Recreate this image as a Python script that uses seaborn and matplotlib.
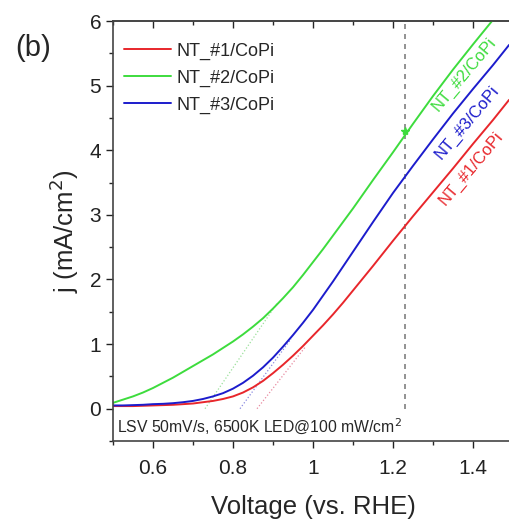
import pandas as pd
import matplotlib
matplotlib.use('Agg')
import matplotlib.pyplot as plt
from matplotlib.ticker import MultipleLocator
import seaborn as sns

# datos
voltage = [0.500, 0.525, 0.550, 0.575, 0.600, 0.625, 0.650, 0.675, 0.700, 0.725,
           0.750, 0.775, 0.800, 0.825, 0.850, 0.875, 0.900, 0.925, 0.950, 0.975,
           1.000, 1.025, 1.050, 1.075, 1.100, 1.150, 1.200, 1.250, 1.300, 1.350,
           1.400, 1.450, 1.490]
j_nt1 = [0.04, 0.04, 0.04, 0.045, 0.05, 0.055, 0.06, 0.07, 0.08, 0.10,
         0.12, 0.15, 0.19, 0.25, 0.33, 0.43, 0.55, 0.68, 0.82, 0.97,
         1.13, 1.29, 1.46, 1.64, 1.83, 2.21, 2.60, 2.98, 3.35, 3.72,
         4.10, 4.47, 4.78]
j_nt2 = [0.09, 0.14, 0.19, 0.25, 0.32, 0.40, 0.48, 0.57, 0.66, 0.75,
         0.84, 0.94, 1.04, 1.15, 1.27, 1.40, 1.55, 1.71, 1.88, 2.07,
         2.27, 2.47, 2.68, 2.89, 3.10, 3.54, 3.97, 4.41, 4.84, 5.25,
         5.64, 6.02, 6.30]
j_nt3 = [0.05, 0.05, 0.055, 0.06, 0.07, 0.075, 0.085, 0.10, 0.12, 0.15,
         0.19, 0.24, 0.31, 0.40, 0.51, 0.64, 0.79, 0.96, 1.14, 1.33,
         1.53, 1.75, 1.97, 2.20, 2.43, 2.89, 3.34, 3.76, 4.17, 4.57,
         4.95, 5.32, 5.63]
samples = ['NT_#1/CoPi', 'NT_#2/CoPi', 'NT_#3/CoPi']
colors = ['#e8262b', '#3ddc3d', '#1c1ccc']

# rectas tangentes (onset)
tan_v = [[0.86, 0.98], [0.73, 0.91], [0.8175, 0.945]]
tan_j = [[0.0, 0.95], [0.0, 1.63], [0.0, 1.08]]
tan_colors = ['#e88aa0', '#9be09b', '#8a8ae0']

v_ref = 1.23
j_ref = 4.30

df = pd.DataFrame({
    'V': voltage * 3,
    'j': j_nt1 + j_nt2 + j_nt3,
    'muestra': [samples[0]] * len(voltage) + [samples[1]] * len(voltage) + [samples[2]] * len(voltage),
})

sns.set_theme(style='ticks')
plt.rcParams['font.family'] = ['Liberation Sans', 'DejaVu Sans']

fig = plt.figure(figsize=(5.09, 5.21), dpi=100)
ax = fig.add_axes([0.222, 0.1536, 0.786, 0.806])

for tv, tj, tc in zip(tan_v, tan_j, tan_colors):
    ax.plot(tv, tj, ls=':', lw=0.9, color=tc)

ax.plot([v_ref, v_ref], [0, 6], ls='--', lw=1.2, color='#808080', dashes=(3, 3))

sns.lineplot(data=df, x='V', y='j', hue='muestra', palette=colors, lw=1.4, ax=ax)
ax.plot([v_ref], [j_ref], marker='*', ms=6, color=colors[1])

ax.set_xlim(0.5, 1.5)
ax.set_ylim(-0.5, 6)
ax.xaxis.set_major_locator(MultipleLocator(0.2))
ax.xaxis.set_minor_locator(MultipleLocator(0.1))
ax.yaxis.set_major_locator(MultipleLocator(1))
ax.yaxis.set_minor_locator(MultipleLocator(0.5))
ax.set_xticks([0.6, 0.8, 1.0, 1.2, 1.4])
ax.set_xticklabels(['0.6', '0.8', '1', '1.2', '1.4'])
ax.set_yticks([0, 1, 2, 3, 4, 5, 6])
ax.tick_params(which='major', direction='out', length=5, width=1, labelsize=15,
               colors='#222222')
ax.tick_params(axis='x', which='major', pad=8)
ax.tick_params(which='minor', direction='out', length=3, width=1)
for s in ax.spines.values():
    s.set_linewidth(1.2)
    s.set_color('#444444')
ax.spines['right'].set_visible(False)

top = ax.secondary_xaxis('top')
top.set_xticks([0.6, 0.8, 1.0, 1.2, 1.4])
top.xaxis.set_minor_locator(MultipleLocator(0.1))
top.tick_params(which='major', direction='in', length=5, width=1, labeltop=False)
top.tick_params(which='minor', direction='in', length=3, width=1)
top.spines['top'].set_linewidth(1.2)
top.spines['top'].set_color('#444444')

ax.set_xlabel('Voltage (vs. RHE)', fontsize=18.5, labelpad=12)
ax.set_ylabel('j (mA/cm$^2$)', fontsize=18.5, labelpad=6)

ax.legend(loc='upper left', frameon=False, fontsize=13, handlelength=2.6,
          handletextpad=0.3, borderaxespad=0.2,
          bbox_to_anchor=(0.0, 0.975), labelspacing=0.55)

ax.text(0.51, -0.27, 'LSV 50mV/s, 6500K LED@100 mW/cm$^2$', fontsize=11.3, va='center')
ax.text(1.378, 5.18, samples[1], color=colors[1], rotation=50, fontsize=12, ha='center', va='center')
ax.text(1.386, 4.43, samples[2], color=colors[2], rotation=50, fontsize=12, ha='center', va='center')
ax.text(1.395, 3.72, samples[0], color=colors[0], rotation=50, fontsize=12, ha='center', va='center')

fig.text(0.03, 0.908, '(b)', fontsize=21, ha='left', va='center')

fig.savefig('out.png', dpi=100)
